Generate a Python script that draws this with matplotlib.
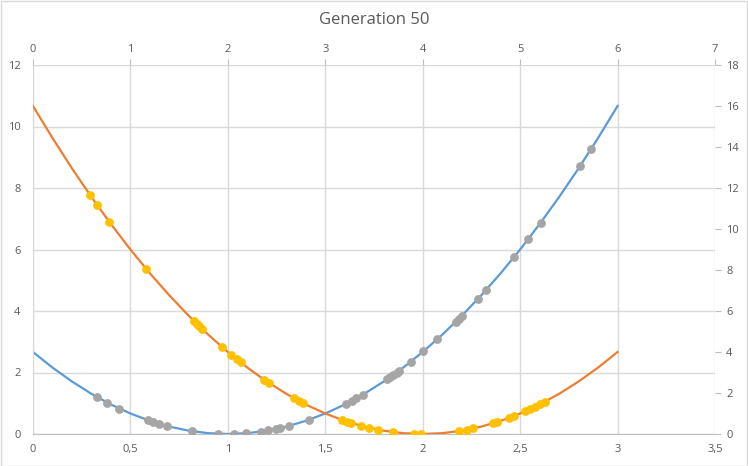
import matplotlib.pyplot as plt
from matplotlib.patches import Rectangle
from matplotlib.ticker import FuncFormatter, MultipleLocator

# primary axes (bottom x 0..3.5, left y 0..12)
blue_x = [0.0, 0.1, 0.2, 0.3, 0.4, 0.5, 0.6, 0.7, 0.8, 0.9, 1.0, 1.1, 1.2, 1.3, 1.4, 1.5,
          1.6, 1.7, 1.8, 1.9, 2.0, 2.1, 2.2, 2.3, 2.4, 2.5, 2.6, 2.7, 2.8, 2.9, 3.0]
blue_y = [2.667, 2.16, 1.707, 1.307, 0.96, 0.667, 0.427, 0.24, 0.107, 0.027, 0.0, 0.027,
          0.107, 0.24, 0.427, 0.667, 0.96, 1.307, 1.707, 2.16, 2.667, 3.227, 3.84, 4.507,
          5.227, 6.0, 6.827, 7.707, 8.64, 9.627, 10.667]

gray_x = [0.327, 0.381, 0.443, 0.590, 0.614, 0.648, 0.689, 0.818, 0.951, 1.033, 1.093,
          1.169, 1.208, 1.247, 1.268, 1.312, 1.415, 1.605, 1.636, 1.658, 1.692, 1.818,
          1.832, 1.849, 1.866, 1.880, 1.940, 2.003, 2.075, 2.171, 2.186, 2.200, 2.285,
          2.323, 2.470, 2.542, 2.605, 2.809, 2.864]
gray_y = [1.208, 1.022, 0.827, 0.448, 0.397, 0.330, 0.258, 0.088, 0.006, 0.003, 0.023,
          0.076, 0.115, 0.163, 0.192, 0.260, 0.459, 0.976, 1.079, 1.155, 1.277, 1.784,
          1.846, 1.922, 2.000, 2.065, 2.356, 2.683, 3.082, 3.657, 3.751, 3.840, 4.403,
          4.668, 5.763, 6.341, 6.870, 8.727, 9.266]

# secondary axes (top x 0..7, right y 0..18)
orange_x = [0.0, 0.2, 0.4, 0.6, 0.8, 1.0, 1.2, 1.4, 1.6, 1.8, 2.0, 2.2, 2.4, 2.6, 2.8, 3.0,
            3.2, 3.4, 3.6, 3.8, 4.0, 4.2, 4.4, 4.6, 4.8, 5.0, 5.2, 5.4, 5.6, 5.8, 6.0]
orange_y = [16.0, 14.44, 12.96, 11.56, 10.24, 9.0, 7.84, 6.76, 5.76, 4.84, 4.0, 3.24, 2.56,
            1.96, 1.44, 1.0, 0.64, 0.36, 0.16, 0.04, 0.0, 0.04, 0.16, 0.36, 0.64, 1.0, 1.44,
            1.96, 2.56, 3.24, 4.0]

yellow_x = [0.588, 0.660, 0.783, 1.163, 1.652, 1.680, 1.707, 1.732, 1.943, 2.035, 2.091,
            2.132, 2.374, 2.425, 2.679, 2.730, 2.774, 3.168, 3.220, 3.269, 3.370, 3.452,
            3.544, 3.698, 3.914, 3.987, 4.375, 4.451, 4.519, 4.725, 4.765, 4.888, 4.940,
            5.054, 5.101, 5.152, 5.202, 5.251]
yellow_y = [11.64, 11.16, 10.35, 8.05, 5.51, 5.38, 5.26, 5.14, 4.23, 3.86, 3.64, 3.49,
            2.64, 2.48, 1.745, 1.613, 1.503, 0.692, 0.608, 0.534, 0.397, 0.300, 0.208,
            0.091, 0.007, 0.0002, 0.141, 0.203, 0.269, 0.526, 0.585, 0.789, 0.884, 1.111,
            1.212, 1.327, 1.445, 1.565]

TEXT = "#595959"
GRID = "#D9D9D9"
plt.rcParams["font.family"] = ["Open Sans", "DejaVu Sans"]


def comma_fmt(v, pos):
    s = f"{v:g}"
    return s.replace(".", ",")


fig = plt.figure(figsize=(7.48, 4.66), dpi=100, facecolor="white")
fig.patches.append(Rectangle((0.001, 0.001), 0.997, 0.997, transform=fig.transFigure,
                             fill=False, edgecolor=GRID, linewidth=1))

pos = [33 / 748, 32 / 466, 682 / 748, 369 / 466]
ax = fig.add_axes(pos)
ax.set_xlim(0, 3.5)
ax.set_ylim(0, 12)
ax.xaxis.set_major_locator(MultipleLocator(0.5))
ax.yaxis.set_major_locator(MultipleLocator(2))
ax.xaxis.set_major_formatter(FuncFormatter(comma_fmt))
ax.grid(True, color=GRID, linewidth=1)
ax.set_axisbelow(True)
for s in ["top", "right"]:
    ax.spines[s].set_visible(False)
ax.spines["left"].set_color(GRID)
ax.spines["bottom"].set_color("#BFBFBF")
ax.tick_params(axis="both", length=0, labelsize=8, labelcolor=TEXT)
ax.tick_params(axis="x", pad=7)
ax.tick_params(axis="y", pad=9)

ax.plot(blue_x, blue_y, color="#5B9BD5", linewidth=1.6, zorder=2)
ax.plot(gray_x, gray_y, "o", color="#A5A5A5", markersize=5.3, zorder=3)

ax2 = fig.add_axes(pos, frameon=False)
ax2.patch.set_visible(False)
ax2.set_xlim(0, 7)
ax2.set_ylim(0, 18)
ax2.xaxis.tick_top()
ax2.yaxis.tick_right()
ax2.xaxis.set_major_locator(MultipleLocator(1))
ax2.yaxis.set_major_locator(MultipleLocator(2))
ax2.spines["top"].set_visible(True)
ax2.spines["right"].set_visible(True)
ax2.spines["top"].set_color("#BFBFBF")
ax2.spines["right"].set_color("#BFBFBF")
ax2.tick_params(axis="both", direction="out", length=4, color="#BFBFBF",
                labelsize=8, labelcolor=TEXT)
ax2.tick_params(axis="x", pad=3)
ax2.tick_params(axis="y", pad=4)

ax2.plot(orange_x, orange_y, color="#ED7D31", linewidth=1.6, zorder=2)
ax2.plot(yellow_x, yellow_y, "o", color="#FFC000", markersize=5.3, zorder=3)

fig.text(0.5, 1 - 20 / 466, "Generation 50", ha="center", va="center",
         fontsize=12, color=TEXT)

fig.savefig("out.png", dpi=100, facecolor="white")
